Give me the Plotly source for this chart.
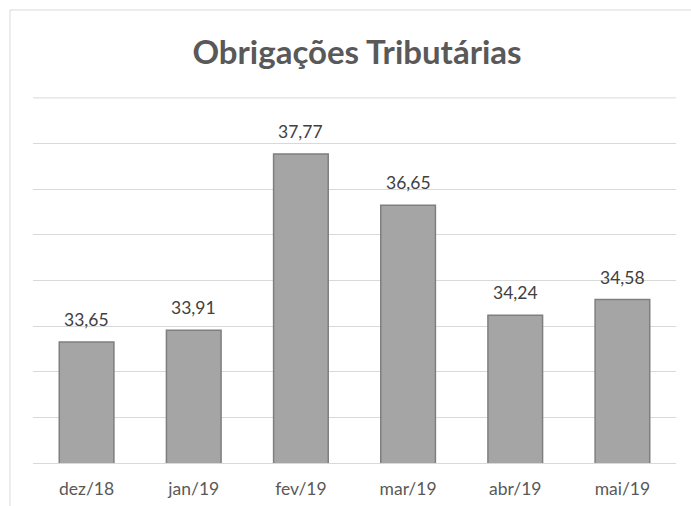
import plotly.graph_objects as go

categories = ["dez/18", "jan/19", "fev/19", "mar/19", "abr/19", "mai/19"]
values = [33.65, 33.91, 37.77, 36.65, 34.24, 34.58]
grid_values = [31, 32, 33, 34, 35, 36, 37, 38, 39]
title_text = "Obrigações Tributárias"

FONT = "Lato"

fig = go.Figure()
fig.add_trace(go.Bar(
    x=categories, y=values,
    marker=dict(color="#A5A5A5", line=dict(color="#7F7F7F", width=1.5)),
    hoverinfo="skip",
))

for c, v in zip(categories, values):
    fig.add_annotation(
        x=c, y=v, xref="x", yref="y",
        text=f"{v:.2f}".replace(".", ","),
        showarrow=False, yanchor="bottom", yshift=10,
        font=dict(family=FONT, size=17.5, color="#404040"),
    )

W, H = 691, 506
ml, mr, mt, mb = 33, 15, 97, 43
pw, ph = W - ml - mr, H - mt - mb

def px(x):
    return (x - ml) / pw

def py(y):
    return (H - mb - y) / ph

fig.add_shape(type="rect", xref="paper", yref="paper",
              x0=px(10), x1=px(W + 20), y0=py(H + 20), y1=py(10),
              line=dict(color="#D9D9D9", width=1), fillcolor="rgba(0,0,0,0)",
              layer="below")
# top gridline (edge of the value range)
fig.add_shape(type="line", xref="paper", yref="y", x0=0, x1=1,
              y0=grid_values[-1], y1=grid_values[-1],
              line=dict(color="#D9D9D9", width=1), layer="below")

fig.update_layout(
    width=W, height=H,
    margin=dict(l=ml, r=mr, t=mt, b=mb, pad=0, autoexpand=False),
    paper_bgcolor="white", plot_bgcolor="white",
    separators=",.",
    bargap=0.49,
    showlegend=False,
    title=dict(text=f"<b>{title_text}</b>", xref="container", yref="container",
               x=357 / W, xanchor="center",
               y=1 - 52 / H, yanchor="middle",
               font=dict(family=FONT, size=33, color="#595959")),
    xaxis=dict(showgrid=False, showline=True, linecolor="#D9D9D9", linewidth=1,
               ticks="", ticklabelstandoff=10, automargin=False,
               tickfont=dict(family=FONT, size=17.5, color="#595959"),
               fixedrange=True),
    yaxis=dict(range=[grid_values[0], grid_values[-1] + 0.02], tickvals=grid_values,
               showgrid=True, gridcolor="#D9D9D9", automargin=False,
               gridwidth=1, showticklabels=False, zeroline=False, ticks="",
               fixedrange=True),
)

fig.write_html("out.html", config={"displayModeBar": False},
               post_script="document.body.style.margin='0px';")
